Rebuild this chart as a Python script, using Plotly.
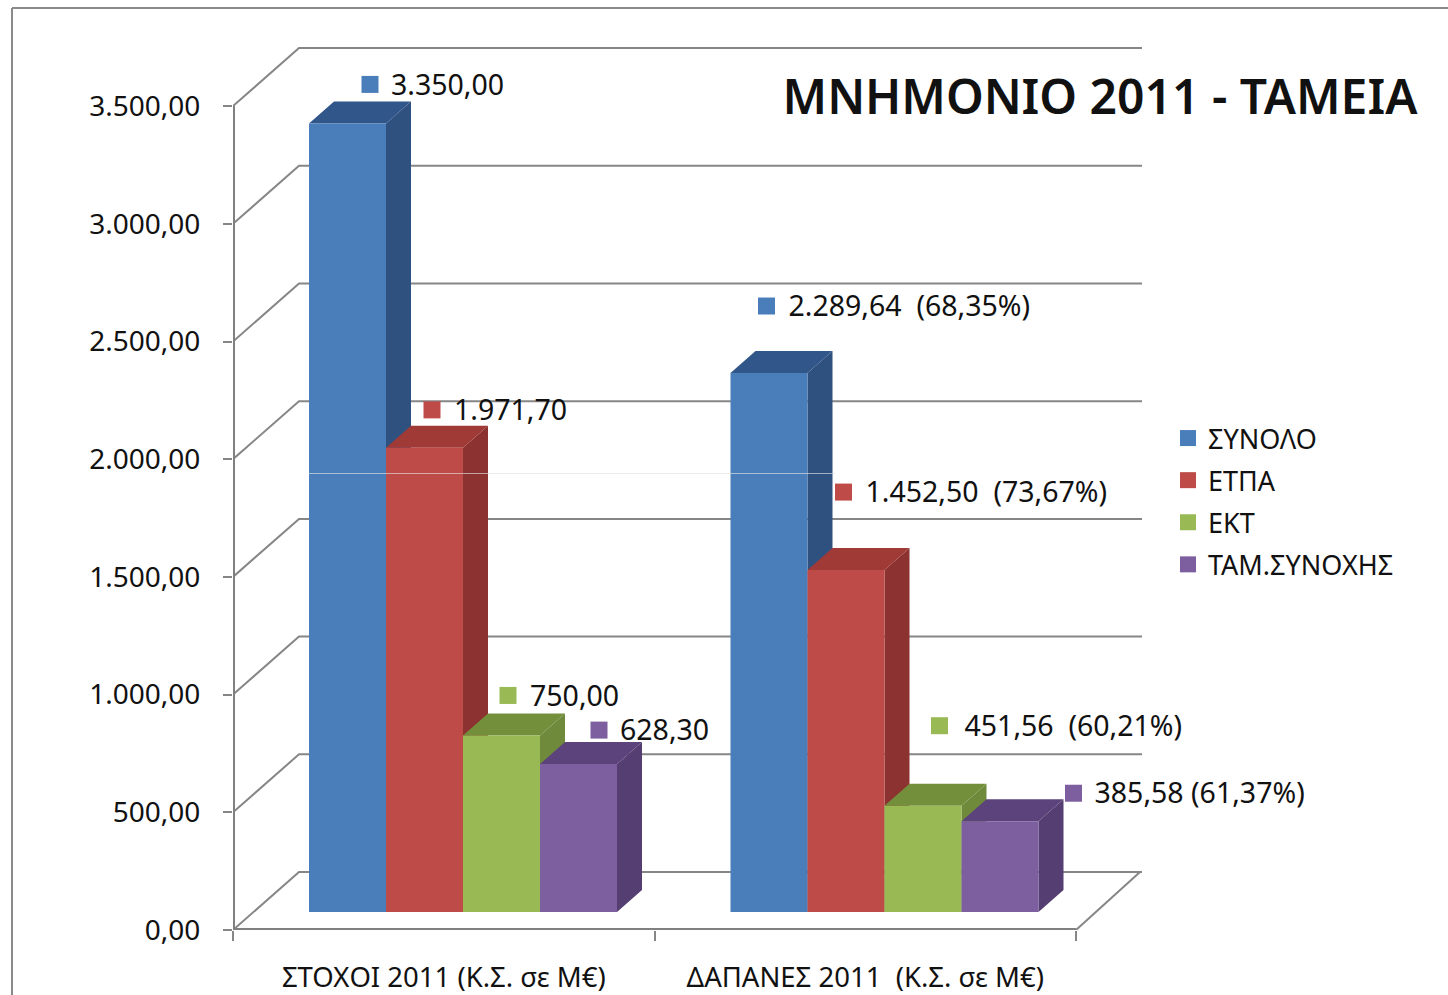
import plotly.graph_objects as go

# ---- data ----
categories = ["ΣΤΟΧΟΙ 2011 (Κ.Σ. σε Μ€)", "ΔΑΠΑΝΕΣ 2011  (Κ.Σ. σε Μ€)"]
series_names = ["ΣΥΝΟΛΟ", "ΕΤΠΑ", "ΕΚΤ", "ΤΑΜ.ΣΥΝΟΧΗΣ"]
synolo = [3350.00, 2289.64]
etpa = [1971.70, 1452.50]
ekt = [750.00, 451.56]
tam_synoxis = [628.30, 385.58]
synolo_labels = ["3.350,00", "2.289,64\u00a0 (68,35%)"]
etpa_labels = ["1.971,70", "1.452,50\u00a0 (73,67%)"]
ekt_labels = ["750,00", "451,56\u00a0 (60,21%)"]
tam_labels = ["628,30", "385,58 (61,37%)"]
y_ticks = [0, 500, 1000, 1500, 2000, 2500, 3000, 3500]
y_tick_labels = ["0,00", "500,00", "1.000,00", "1.500,00", "2.000,00", "2.500,00", "3.000,00", "3.500,00"]
title_text = "ΜΝΗΜΟΝΙΟ 2011 - ΤΑΜΕΙΑ"

# ---- layout / pseudo-3D geometry (pixels) ----
W, H = 1448, 995
L, R, T, B = 233, 1142, 40, 930
PXX = 421.5          # pixels per category
PXY = 0.2354         # pixels per value unit
FONT = "Noto Sans"
GRID = "#868686"
TXT = "#111111"
front = ["#4a7ebb", "#be4b48", "#98b954", "#7d5fa0"]
side = ["#2f5180", "#8c3230", "#6f8a3a", "#553f72"]
top = ["#31568a", "#a03a36", "#738f3c", "#5c437c"]
BAR_W = 77 / PXX
BAR_START = 76 / PXX
DX = 25 / PXX
DY = 22 / PXY
FLOOR = 18 / PXY
WALL_X = 66 / PXX
WALL_Y = 58 / PXY
X_END = (R - L) / PXX
AX_END = 2
# label offsets from each bar's top-left front corner
lab_dx = [[61, 36], [46, 36], [45, 55], [59, 112]]
lab_dy = [[39, 67], [38, 78], [40, 80], [34, 28]]
lab_gap = [[21, 22], [22, 22], [22, 25], [21, 21]]
TEXT_DROP = 3

fig = go.Figure()

# walls / gridlines
gx, gy = [], []
for v in y_ticks:
    gx += [0, WALL_X, X_END, None]
    gy += [v, v + WALL_Y, v + WALL_Y, None]
gx += [AX_END, AX_END + 64 / PXX]
gy += [0, WALL_Y]
fig.add_trace(go.Scatter(x=gx, y=gy, mode="lines", line=dict(color=GRID, width=2),
                         hoverinfo="skip", showlegend=False, cliponaxis=False))
# axis lines
fig.add_trace(go.Scatter(x=[0, 0, None, 0, AX_END], y=[0, y_ticks[-1], None, 0, 0], mode="lines",
                         line=dict(color="#808080", width=4),
                         hoverinfo="skip", showlegend=False, cliponaxis=False))

values = [synolo, etpa, ekt, tam_synoxis]
labels = [synolo_labels, etpa_labels, ekt_labels, tam_labels]


def polys(shapes):
    xs, ys = [], []
    for s in shapes:
        xs += [p[0] for p in s] + [s[0][0], None]
        ys += [p[1] for p in s] + [s[0][1], None]
    return xs, ys


for i, vals in enumerate(values):
    sp, tp, fp = [], [], []
    for g, v in enumerate(vals):
        x0 = g + BAR_START + i * BAR_W
        x1 = x0 + BAR_W
        y0, y1 = FLOOR, FLOOR + v
        sp.append([(x1, y0), (x1 + DX, y0 + DY), (x1 + DX, y1 + DY), (x1, y1)])
        tp.append([(x0, y1), (x1, y1), (x1 + DX, y1 + DY), (x0 + DX, y1 + DY)])
        fp.append([(x0, y0), (x1, y0), (x1, y1), (x0, y1)])
    for shp, col in ((sp, side[i]), (tp, top[i]), (fp, front[i])):
        xs, ys = polys(shp)
        fig.add_trace(go.Scatter(x=xs, y=ys, mode="lines", fill="toself", fillcolor=col,
                                 line=dict(width=0, color=col), hoverinfo="skip",
                                 showlegend=False))

# value labels with their colour keys; these also supply the legend
for i, vals in enumerate(values):
    mx, my, tx, ty = [], [], [], []
    for g, v in enumerate(vals):
        x0 = g + BAR_START + i * BAR_W
        mx.append(x0 + lab_dx[i][g] / PXX)
        my.append(FLOOR + v + lab_dy[i][g] / PXY)
        tx.append(x0 + (lab_dx[i][g] + lab_gap[i][g]) / PXX)
        ty.append(FLOOR + v + (lab_dy[i][g] - TEXT_DROP) / PXY)
    fig.add_trace(go.Scatter(x=mx, y=my, mode="markers", name=series_names[i],
                             legendgroup=series_names[i],
                             marker=dict(symbol="square", size=17, color=front[i]),
                             hoverinfo="skip", cliponaxis=False))
    fig.add_trace(go.Scatter(x=tx, y=ty, mode="text", text=labels[i], textposition="middle right",
                             textfont=dict(family=FONT, size=28.5, color=TXT),
                             hoverinfo="skip", showlegend=False, cliponaxis=False))


def px(x):
    return (x - L) / (R - L)


def py(y):
    return (B - y) / (B - T)


frame = dict(type="line", xref="paper", yref="paper", line=dict(color="#8a8a8a", width=2))
shapes = [
    dict(frame, x0=px(12), x1=px(W), y0=py(8), y1=py(8)),
    dict(frame, x0=px(12), x1=px(12), y0=py(8), y1=py(H)),
    dict(type="line", xref="paper", yref="paper", x0=px(309), x1=px(835), y0=py(473.5), y1=py(473.5),
         line=dict(color="rgba(225,225,225,0.65)", width=1), layer="above"),
]

fig.update_layout(
    width=W, height=H,
    margin=dict(l=L, r=W - R, t=T, b=H - B, pad=0, autoexpand=False),
    paper_bgcolor="white", plot_bgcolor="white",
    title=dict(text=title_text, font=dict(family=FONT, size=48, color=TXT, weight=600),
               x=(783 + 1417) / 2 / W, xanchor="center", xref="container",
               y=1 - 97 / H, yanchor="middle", yref="container"),
    xaxis=dict(range=[0, X_END], tickvals=[0.5, 1.5], ticktext=categories, ticks="", showgrid=False,
               automargin=False, zeroline=False, showline=False,
               tickfont=dict(family=FONT, size=27.5, color=TXT), ticklabelstandoff=28,
               minor=dict(tickmode="array", tickvals=[0, 1, 2], ticks="outside", ticklen=10,
                          tickcolor=GRID, tickwidth=2, showgrid=False)),
    yaxis=dict(range=[0, (B - T) / PXY], tickvals=y_ticks, ticktext=y_tick_labels, ticks="outside",
               automargin=False, ticklen=9, tickcolor=GRID, tickwidth=2, showgrid=False,
               zeroline=False, showline=False,
               tickfont=dict(family=FONT, size=28, color=TXT), ticklabelstandoff=17),
    legend=dict(x=(1168 - L) / (R - L), xanchor="left", y=py(414), yanchor="top",
                font=dict(family=FONT, size=27, color=TXT), itemsizing="trace",
                tracegroupgap=4, bgcolor="rgba(0,0,0,0)", borderwidth=0),
    shapes=shapes,
    showlegend=True,
    hovermode=False,
)

fig.write_html("out.html", post_script="document.body.style.margin='0';document.body.style.overflow='hidden';",
               config={"displayModeBar": False})
